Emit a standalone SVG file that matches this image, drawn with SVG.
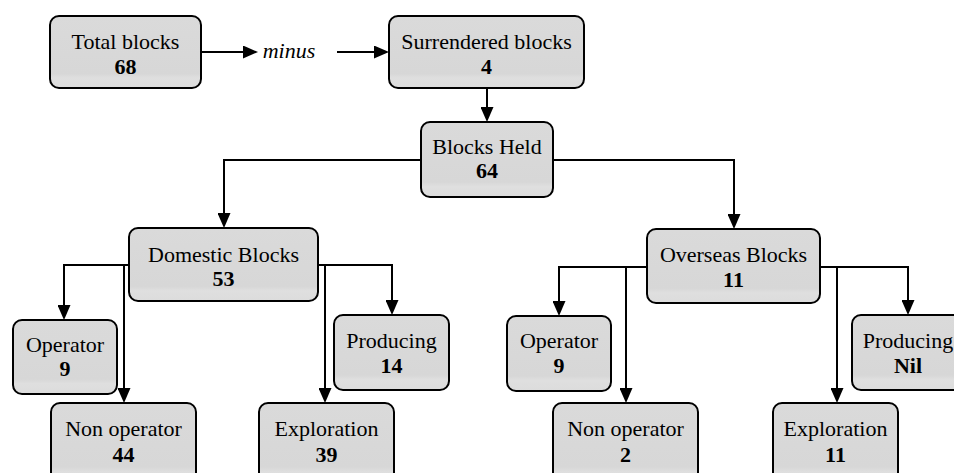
<svg xmlns="http://www.w3.org/2000/svg" width="954" height="473" viewBox="0 0 954 473">
<style>
.box{fill:url(#g);stroke:#000;stroke-width:2}
.t{font-family:'Liberation Serif','Times New Roman','DejaVu Serif',serif;font-size:22px;text-anchor:middle;fill:#000}
.b{font-weight:bold}
.c{fill:none;stroke:#000;stroke-width:2}
</style>
<defs>
<linearGradient id="g" x1="0" y1="0" x2="0" y2="1">
<stop offset="0" stop-color="#dadada"/>
<stop offset="0.8" stop-color="#d7d7d7"/>
<stop offset="0.86" stop-color="#dfdfdf"/>
<stop offset="1" stop-color="#dcdcdc"/>
</linearGradient>
<marker id="a" viewBox="0 0 15 13" refX="12" refY="6.5" markerWidth="15" markerHeight="13" markerUnits="userSpaceOnUse" orient="auto">
<path d="M0,0 L15,6.5 L0,13 z" fill="#000"/>
</marker>
</defs>
<rect width="954" height="473" fill="#fff"/>
<g id="connectors">
<path class="c" d="M201,52 H255" marker-end="url(#a)"/>
<path class="c" d="M337,52 H386" marker-end="url(#a)"/>
<path class="c" d="M487,88 V119" marker-end="url(#a)"/>
<path class="c" d="M421,160 H224 V225" marker-end="url(#a)"/>
<path class="c" d="M553,160 H734 V226" marker-end="url(#a)"/>
<path class="c" d="M129,265 H64 V317" marker-end="url(#a)"/>
<path class="c" d="M129,265 H124 V400" marker-end="url(#a)"/>
<path class="c" d="M318,265 H392 V312" marker-end="url(#a)"/>
<path class="c" d="M318,265 H325 V400" marker-end="url(#a)"/>
<path class="c" d="M647,267 H559 V313" marker-end="url(#a)"/>
<path class="c" d="M647,267 H626 V400" marker-end="url(#a)"/>
<path class="c" d="M820,267 H908 V312" marker-end="url(#a)"/>
<path class="c" d="M820,267 H837 V400" marker-end="url(#a)"/>
<text x="289" y="58" class="t" font-style="italic">minus</text>
</g>
<g id="total"><rect class="box" x="50" y="16" width="151" height="72" rx="9"/>
<text class="t" x="125.5" y="49">Total blocks</text><text class="t b" x="125.5" y="74">68</text></g>
<g id="surrendered"><rect class="box" x="389" y="16" width="195" height="72" rx="9"/>
<text class="t" x="486.5" y="49">Surrendered blocks</text><text class="t b" x="486.5" y="74">4</text></g>
<g id="held"><rect class="box" x="421" y="122" width="132" height="75" rx="9"/>
<text class="t" x="487" y="154">Blocks Held</text><text class="t b" x="487" y="178">64</text></g>
<g id="domestic"><rect class="box" x="129" y="228" width="189" height="73" rx="9"/>
<text class="t" x="223.5" y="262">Domestic Blocks</text><text class="t b" x="223.5" y="286">53</text></g>
<g id="overseas"><rect class="box" x="647" y="229" width="173" height="74" rx="9"/>
<text class="t" x="733.5" y="262">Overseas Blocks</text><text class="t b" x="733.5" y="287">11</text></g>
<g id="dom-operator"><rect class="box" x="13" y="320" width="104" height="74" rx="9"/>
<text class="t" x="65" y="352">Operator</text><text class="t b" x="65" y="376">9</text></g>
<g id="dom-nonoperator"><rect class="box" x="51" y="403" width="145" height="80" rx="9"/>
<text class="t" x="123.5" y="436">Non operator</text><text class="t b" x="123.5" y="462">44</text></g>
<g id="dom-producing"><rect class="box" x="334" y="315" width="115" height="75" rx="9"/>
<text class="t" x="391.5" y="348">Producing</text><text class="t b" x="391.5" y="373">14</text></g>
<g id="dom-exploration"><rect class="box" x="259" y="403" width="135" height="80" rx="9"/>
<text class="t" x="326.5" y="436">Exploration</text><text class="t b" x="326.5" y="462">39</text></g>
<g id="ov-operator"><rect class="box" x="507" y="316" width="104" height="75" rx="9"/>
<text class="t" x="559" y="348">Operator</text><text class="t b" x="559" y="373">9</text></g>
<g id="ov-nonoperator"><rect class="box" x="553" y="403" width="145" height="80" rx="9"/>
<text class="t" x="625.5" y="436">Non operator</text><text class="t b" x="625.5" y="462">2</text></g>
<g id="ov-producing"><rect class="box" x="852" y="315" width="115" height="75" rx="9"/>
<text class="t" x="908" y="348">Producing</text><text class="t b" x="908" y="373">Nil</text></g>
<g id="ov-exploration"><rect class="box" x="773" y="403" width="125" height="80" rx="9"/>
<text class="t" x="835.5" y="436">Exploration</text><text class="t b" x="835.5" y="462">11</text></g>
</svg>
